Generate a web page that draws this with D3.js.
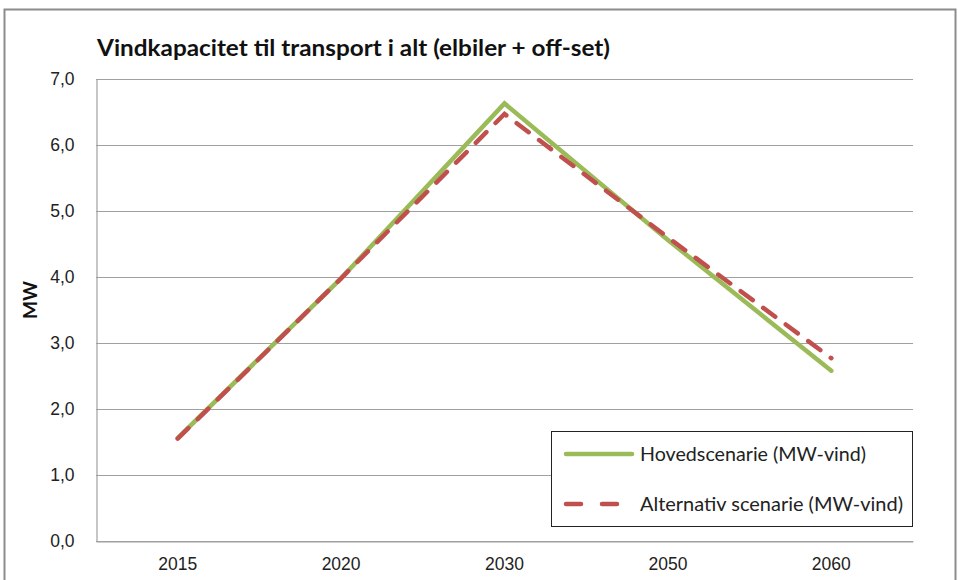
<!DOCTYPE html>
<html>
<head>
<meta charset="utf-8">
<script src="https://cdn.jsdelivr.net/npm/d3@7"></script>
<style>
  html, body { margin: 0; padding: 0; background: #fff; }
  svg { display: block; font-family: Lato, "Open Sans", "Liberation Sans", sans-serif; }
</style>
</head>
<body>
<svg id="chart" width="958" height="580"></svg>
<script>
// Categories (years) and the two wind-capacity scenarios, in MW
const years = ["2015", "2020", "2030", "2050", "2060"];
const hovedscenarie = [1.56, 3.98, 6.63, 4.56, 2.58];
const alternativScenarie = [1.55, 3.98, 6.47, 4.6, 2.77];
const yTicks = [0, 1, 2, 3, 4, 5, 6, 7];
const seriesNames = ["Hovedscenarie (MW-vind)", "Alternativ scenarie (MW-vind)"];

const titleText = "Vindkapacitet til transport i alt (elbiler + off-set)";
const yAxisTitle = "MW";

const green = "#9BBB59";
const red = "#C0504D";
const gridColor = "#a0a0a0";

const svg = d3.select("#chart");

// Outer chart frame
svg.append("rect")
  .attr("x", 4.5).attr("y", 9.5)
  .attr("width", 951).attr("height", 600)
  .attr("fill", "#fff")
  .attr("stroke", "#8c8c8c")
  .attr("stroke-width", 2);

const plot = { left: 96, right: 913, top: 79, bottom: 541 };

const x = d3.scaleBand().domain(years).range([plot.left, plot.right]);
const y = d3.scaleLinear().domain([0, 7]).range([plot.bottom, plot.top]);
const fmt = v => d3.format(".1f")(v).replace(".", ",");

// Horizontal gridlines
svg.append("g")
  .selectAll("line")
  .data(yTicks)
  .join("line")
  .attr("x1", plot.left).attr("x2", plot.right)
  .attr("y1", d => Math.round(y(d)) + 0.5)
  .attr("y2", d => Math.round(y(d)) + 0.5)
  .attr("stroke", gridColor)
  .attr("stroke-width", 1.2);

// Y axis
const yAxis = svg.append("g")
  .attr("transform", `translate(${plot.left + 0.5},0)`)
  .call(d3.axisLeft(y).tickValues(yTicks).tickFormat(fmt).tickSize(0).tickPadding(22));
yAxis.select(".domain").attr("stroke", gridColor).attr("stroke-width", 1.2);
yAxis.selectAll("text")
  .attr("font-size", 17.5)
  .attr("fill", "#222")
  .style("font-family", "inherit");

// X axis
const xAxis = svg.append("g")
  .attr("transform", `translate(0,${Math.round(plot.bottom) + 0.5})`)
  .call(d3.axisBottom(x).tickSize(0).tickPadding(16));
xAxis.select(".domain").attr("stroke", gridColor).attr("stroke-width", 1.2);
xAxis.selectAll("text")
  .attr("font-size", 17.5)
  .attr("fill", "#222")
  .style("font-family", "inherit");

// Title
svg.append("text")
  .attr("x", 97).attr("y", 56)
  .attr("font-size", 23)
  .attr("font-weight", "bold")
  .attr("fill", "#111")
  .attr("textLength", 513)
  .attr("lengthAdjust", "spacingAndGlyphs")
  .text(titleText);

// Y axis title
svg.append("text")
  .attr("transform", "translate(37,300) rotate(-90)")
  .attr("text-anchor", "middle")
  .attr("font-size", 19)
  .attr("font-weight", "bold")
  .attr("fill", "#111")
  .text(yAxisTitle);

const line = d3.line()
  .x((d, i) => x(years[i]) + x.bandwidth() / 2)
  .y(d => y(d));

// Main scenario line (solid green)
svg.append("path")
  .datum(hovedscenarie)
  .attr("d", line)
  .attr("fill", "none")
  .attr("stroke", green)
  .attr("stroke-width", 4.5)
  .attr("stroke-linejoin", "miter")
  .attr("stroke-linecap", "round");

// Alternative scenario line (dashed red)
svg.append("path")
  .datum(alternativScenarie)
  .attr("d", line)
  .attr("fill", "none")
  .attr("stroke", red)
  .attr("stroke-width", 4.5)
  .attr("stroke-dasharray", "15,13")
  .attr("stroke-linecap", "round");

// Legend
const legend = svg.append("g");
legend.append("rect")
  .attr("x", 551.5).attr("y", 431.5)
  .attr("width", 361).attr("height", 95)
  .attr("fill", "#fff")
  .attr("stroke", "#222")
  .attr("stroke-width", 1);

const legendRows = [
  { name: seriesNames[0], color: green, dash: null, y: 454, len: 226 },
  { name: seriesNames[1], color: red, dash: "15,21", y: 504, len: 263 }
];
legendRows.forEach(r => {
  legend.append("line")
    .attr("x1", 566).attr("x2", 632)
    .attr("y1", r.y).attr("y2", r.y)
    .attr("stroke", r.color)
    .attr("stroke-width", 4.5)
    .attr("stroke-linecap", "round")
    .attr("stroke-dasharray", r.dash);
  legend.append("text")
    .attr("x", 640).attr("y", r.y)
    .attr("dy", "0.35em")
    .attr("font-size", 20)
    .attr("fill", "#222")
    .attr("textLength", r.len)
    .attr("lengthAdjust", "spacingAndGlyphs")
    .text(r.name);
});
</script>
</body>
</html>
